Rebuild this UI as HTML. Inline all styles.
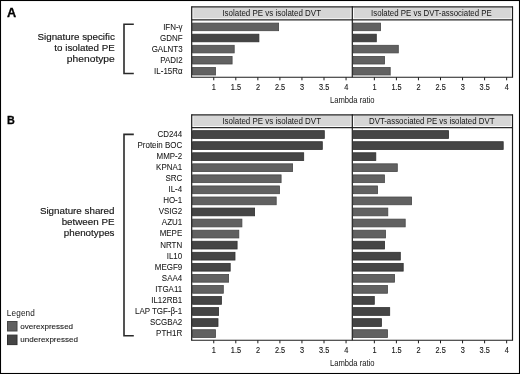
<!DOCTYPE html>
<html><head><meta charset="utf-8"><style>
html,body{margin:0;padding:0;background:#fff;overflow:hidden;}
svg{display:block;font-family:"Liberation Sans", sans-serif;filter:grayscale(1);}
</style></head><body>
<svg width="520" height="374" viewBox="0 0 520 374" fill="#151515">
<rect x="0.5" y="0.5" width="519" height="373" fill="#fff" stroke="#000" stroke-width="1.1"/>
<rect x="191.70" y="6.80" width="160.60" height="13.15" fill="#d6d6d6"/>
<rect x="192.30" y="7.60" width="1.00" height="11.75" fill="#ffffff"/>
<rect x="350.70" y="7.60" width="1.00" height="11.75" fill="#ffffff"/>
<rect x="192.30" y="18.35" width="159.40" height="1.00" fill="#ffffff"/>
<text transform="translate(271.70,15.70) scale(0.96,1)" font-size="8.3" text-anchor="middle">Isolated PE vs isolated DVT</text>
<rect x="352.30" y="6.80" width="160.20" height="13.15" fill="#d6d6d6"/>
<rect x="352.90" y="7.60" width="1.00" height="11.75" fill="#ffffff"/>
<rect x="510.90" y="7.60" width="1.00" height="11.75" fill="#ffffff"/>
<rect x="352.90" y="18.35" width="159.00" height="1.00" fill="#ffffff"/>
<text transform="translate(431.40,15.70) scale(0.95,1)" font-size="8.3" text-anchor="middle">Isolated PE vs DVT-associated PE</text>
<path d="M191.70,6.80H512.50M191.70,19.95H512.50" stroke="#2a2a2a" stroke-width="1.3" fill="none"/>
<rect x="192.60" y="23.10" width="86.00" height="7.60" fill="#616161" stroke="#474747" stroke-width="0.8"/>
<rect x="353.30" y="23.10" width="27.30" height="7.60" fill="#616161" stroke="#474747" stroke-width="0.8"/>
<rect x="192.60" y="34.20" width="66.30" height="7.60" fill="#454545" stroke="#303030" stroke-width="0.8"/>
<rect x="353.30" y="34.20" width="23.00" height="7.60" fill="#454545" stroke="#303030" stroke-width="0.8"/>
<rect x="192.60" y="45.30" width="41.60" height="7.60" fill="#616161" stroke="#474747" stroke-width="0.8"/>
<rect x="353.30" y="45.30" width="45.00" height="7.60" fill="#616161" stroke="#474747" stroke-width="0.8"/>
<rect x="192.60" y="56.40" width="39.50" height="7.60" fill="#616161" stroke="#474747" stroke-width="0.8"/>
<rect x="353.30" y="56.40" width="31.30" height="7.60" fill="#616161" stroke="#474747" stroke-width="0.8"/>
<rect x="192.60" y="67.50" width="22.90" height="7.60" fill="#616161" stroke="#474747" stroke-width="0.8"/>
<rect x="353.30" y="67.50" width="36.90" height="7.60" fill="#616161" stroke="#474747" stroke-width="0.8"/>
<path d="M191.70,6.20V77.30M352.30,6.20V77.30M512.50,6.20V77.30" stroke="#1c1c1c" stroke-width="1.2" fill="none"/>
<path d="M191.10,77.30H513.10" stroke="#1c1c1c" stroke-width="1.1" fill="none"/>
<text transform="translate(213.90,90.25) scale(0.9,1)" font-size="8.2" stroke="#151515" stroke-width="0.12" text-anchor="middle">1</text>
<text transform="translate(235.95,90.25) scale(0.9,1)" font-size="8.2" stroke="#151515" stroke-width="0.12" text-anchor="middle">1.5</text>
<text transform="translate(258.00,90.25) scale(0.9,1)" font-size="8.2" stroke="#151515" stroke-width="0.12" text-anchor="middle">2</text>
<text transform="translate(280.05,90.25) scale(0.9,1)" font-size="8.2" stroke="#151515" stroke-width="0.12" text-anchor="middle">2.5</text>
<text transform="translate(302.10,90.25) scale(0.9,1)" font-size="8.2" stroke="#151515" stroke-width="0.12" text-anchor="middle">3</text>
<text transform="translate(324.15,90.25) scale(0.9,1)" font-size="8.2" stroke="#151515" stroke-width="0.12" text-anchor="middle">3.5</text>
<text transform="translate(346.20,90.25) scale(0.9,1)" font-size="8.2" stroke="#151515" stroke-width="0.12" text-anchor="middle">4</text>
<text transform="translate(374.50,90.25) scale(0.9,1)" font-size="8.2" stroke="#151515" stroke-width="0.12" text-anchor="middle">1</text>
<text transform="translate(396.55,90.25) scale(0.9,1)" font-size="8.2" stroke="#151515" stroke-width="0.12" text-anchor="middle">1.5</text>
<text transform="translate(418.60,90.25) scale(0.9,1)" font-size="8.2" stroke="#151515" stroke-width="0.12" text-anchor="middle">2</text>
<text transform="translate(440.65,90.25) scale(0.9,1)" font-size="8.2" stroke="#151515" stroke-width="0.12" text-anchor="middle">2.5</text>
<text transform="translate(462.70,90.25) scale(0.9,1)" font-size="8.2" stroke="#151515" stroke-width="0.12" text-anchor="middle">3</text>
<text transform="translate(484.75,90.25) scale(0.9,1)" font-size="8.2" stroke="#151515" stroke-width="0.12" text-anchor="middle">3.5</text>
<text transform="translate(506.80,90.25) scale(0.9,1)" font-size="8.2" stroke="#151515" stroke-width="0.12" text-anchor="middle">4</text>
<path d="M213.75,77.30v3M235.80,77.30v3M257.85,77.30v3M279.90,77.30v3M301.95,77.30v3M324.00,77.30v3M346.05,77.30v3M374.35,77.30v3M396.40,77.30v3M418.45,77.30v3M440.50,77.30v3M462.55,77.30v3M484.60,77.30v3M506.65,77.30v3" stroke="#1c1c1c" stroke-width="1" fill="none"/>
<text transform="translate(352.30,103.30) scale(0.87,1)" font-size="8.8" text-anchor="middle">Lambda ratio</text>
<rect x="191.70" y="114.80" width="160.60" height="12.90" fill="#d6d6d6"/>
<rect x="192.30" y="115.60" width="1.00" height="11.50" fill="#ffffff"/>
<rect x="350.70" y="115.60" width="1.00" height="11.50" fill="#ffffff"/>
<rect x="192.30" y="126.10" width="159.40" height="1.00" fill="#ffffff"/>
<text transform="translate(271.70,123.70) scale(0.96,1)" font-size="8.3" text-anchor="middle">Isolated PE vs isolated DVT</text>
<rect x="352.30" y="114.80" width="160.20" height="12.90" fill="#d6d6d6"/>
<rect x="352.90" y="115.60" width="1.00" height="11.50" fill="#ffffff"/>
<rect x="510.90" y="115.60" width="1.00" height="11.50" fill="#ffffff"/>
<rect x="352.90" y="126.10" width="159.00" height="1.00" fill="#ffffff"/>
<text transform="translate(431.70,123.70) scale(0.95,1)" font-size="8.3" text-anchor="middle">DVT-associated PE vs isolated DVT</text>
<path d="M191.70,114.80H512.50M191.70,127.70H512.50" stroke="#2a2a2a" stroke-width="1.3" fill="none"/>
<rect x="192.60" y="130.65" width="131.70" height="7.75" fill="#454545" stroke="#303030" stroke-width="0.8"/>
<rect x="353.30" y="130.65" width="95.30" height="7.75" fill="#454545" stroke="#303030" stroke-width="0.8"/>
<rect x="192.60" y="141.71" width="129.70" height="7.75" fill="#454545" stroke="#303030" stroke-width="0.8"/>
<rect x="353.30" y="141.71" width="149.90" height="7.75" fill="#454545" stroke="#303030" stroke-width="0.8"/>
<rect x="192.60" y="152.77" width="111.10" height="7.75" fill="#454545" stroke="#303030" stroke-width="0.8"/>
<rect x="353.30" y="152.77" width="22.50" height="7.75" fill="#454545" stroke="#303030" stroke-width="0.8"/>
<rect x="192.60" y="163.83" width="100.00" height="7.75" fill="#616161" stroke="#474747" stroke-width="0.8"/>
<rect x="353.30" y="163.83" width="44.00" height="7.75" fill="#616161" stroke="#474747" stroke-width="0.8"/>
<rect x="192.60" y="174.89" width="88.50" height="7.75" fill="#616161" stroke="#474747" stroke-width="0.8"/>
<rect x="353.30" y="174.89" width="31.10" height="7.75" fill="#616161" stroke="#474747" stroke-width="0.8"/>
<rect x="192.60" y="185.95" width="86.90" height="7.75" fill="#616161" stroke="#474747" stroke-width="0.8"/>
<rect x="353.30" y="185.95" width="24.30" height="7.75" fill="#616161" stroke="#474747" stroke-width="0.8"/>
<rect x="192.60" y="197.01" width="83.60" height="7.75" fill="#616161" stroke="#474747" stroke-width="0.8"/>
<rect x="353.30" y="197.01" width="58.30" height="7.75" fill="#616161" stroke="#474747" stroke-width="0.8"/>
<rect x="192.60" y="208.07" width="62.00" height="7.75" fill="#454545" stroke="#303030" stroke-width="0.8"/>
<rect x="353.30" y="208.07" width="34.50" height="7.75" fill="#616161" stroke="#474747" stroke-width="0.8"/>
<rect x="192.60" y="219.13" width="49.30" height="7.75" fill="#616161" stroke="#474747" stroke-width="0.8"/>
<rect x="353.30" y="219.13" width="51.90" height="7.75" fill="#616161" stroke="#474747" stroke-width="0.8"/>
<rect x="192.60" y="230.19" width="46.20" height="7.75" fill="#616161" stroke="#474747" stroke-width="0.8"/>
<rect x="353.30" y="230.19" width="32.20" height="7.75" fill="#616161" stroke="#474747" stroke-width="0.8"/>
<rect x="192.60" y="241.25" width="44.50" height="7.75" fill="#454545" stroke="#303030" stroke-width="0.8"/>
<rect x="353.30" y="241.25" width="31.30" height="7.75" fill="#454545" stroke="#303030" stroke-width="0.8"/>
<rect x="192.60" y="252.31" width="42.40" height="7.75" fill="#454545" stroke="#303030" stroke-width="0.8"/>
<rect x="353.30" y="252.31" width="47.00" height="7.75" fill="#454545" stroke="#303030" stroke-width="0.8"/>
<rect x="192.60" y="263.37" width="37.60" height="7.75" fill="#454545" stroke="#303030" stroke-width="0.8"/>
<rect x="353.30" y="263.37" width="49.90" height="7.75" fill="#454545" stroke="#303030" stroke-width="0.8"/>
<rect x="192.60" y="274.43" width="36.00" height="7.75" fill="#616161" stroke="#474747" stroke-width="0.8"/>
<rect x="353.30" y="274.43" width="41.30" height="7.75" fill="#616161" stroke="#474747" stroke-width="0.8"/>
<rect x="192.60" y="285.49" width="30.70" height="7.75" fill="#616161" stroke="#474747" stroke-width="0.8"/>
<rect x="353.30" y="285.49" width="34.20" height="7.75" fill="#616161" stroke="#474747" stroke-width="0.8"/>
<rect x="192.60" y="296.55" width="28.80" height="7.75" fill="#454545" stroke="#303030" stroke-width="0.8"/>
<rect x="353.30" y="296.55" width="21.00" height="7.75" fill="#454545" stroke="#303030" stroke-width="0.8"/>
<rect x="192.60" y="307.61" width="26.00" height="7.75" fill="#454545" stroke="#303030" stroke-width="0.8"/>
<rect x="353.30" y="307.61" width="36.40" height="7.75" fill="#454545" stroke="#303030" stroke-width="0.8"/>
<rect x="192.60" y="318.67" width="25.40" height="7.75" fill="#454545" stroke="#303030" stroke-width="0.8"/>
<rect x="353.30" y="318.67" width="28.10" height="7.75" fill="#454545" stroke="#303030" stroke-width="0.8"/>
<rect x="192.60" y="329.73" width="22.90" height="7.75" fill="#616161" stroke="#474747" stroke-width="0.8"/>
<rect x="353.30" y="329.73" width="34.20" height="7.75" fill="#616161" stroke="#474747" stroke-width="0.8"/>
<path d="M191.70,114.20V340.30M352.30,114.20V340.30M512.50,114.20V340.30" stroke="#1c1c1c" stroke-width="1.2" fill="none"/>
<path d="M191.10,340.30H513.10" stroke="#1c1c1c" stroke-width="1.1" fill="none"/>
<text transform="translate(213.90,353.30) scale(0.9,1)" font-size="8.2" stroke="#151515" stroke-width="0.12" text-anchor="middle">1</text>
<text transform="translate(235.95,353.30) scale(0.9,1)" font-size="8.2" stroke="#151515" stroke-width="0.12" text-anchor="middle">1.5</text>
<text transform="translate(258.00,353.30) scale(0.9,1)" font-size="8.2" stroke="#151515" stroke-width="0.12" text-anchor="middle">2</text>
<text transform="translate(280.05,353.30) scale(0.9,1)" font-size="8.2" stroke="#151515" stroke-width="0.12" text-anchor="middle">2.5</text>
<text transform="translate(302.10,353.30) scale(0.9,1)" font-size="8.2" stroke="#151515" stroke-width="0.12" text-anchor="middle">3</text>
<text transform="translate(324.15,353.30) scale(0.9,1)" font-size="8.2" stroke="#151515" stroke-width="0.12" text-anchor="middle">3.5</text>
<text transform="translate(346.20,353.30) scale(0.9,1)" font-size="8.2" stroke="#151515" stroke-width="0.12" text-anchor="middle">4</text>
<text transform="translate(374.50,353.30) scale(0.9,1)" font-size="8.2" stroke="#151515" stroke-width="0.12" text-anchor="middle">1</text>
<text transform="translate(396.55,353.30) scale(0.9,1)" font-size="8.2" stroke="#151515" stroke-width="0.12" text-anchor="middle">1.5</text>
<text transform="translate(418.60,353.30) scale(0.9,1)" font-size="8.2" stroke="#151515" stroke-width="0.12" text-anchor="middle">2</text>
<text transform="translate(440.65,353.30) scale(0.9,1)" font-size="8.2" stroke="#151515" stroke-width="0.12" text-anchor="middle">2.5</text>
<text transform="translate(462.70,353.30) scale(0.9,1)" font-size="8.2" stroke="#151515" stroke-width="0.12" text-anchor="middle">3</text>
<text transform="translate(484.75,353.30) scale(0.9,1)" font-size="8.2" stroke="#151515" stroke-width="0.12" text-anchor="middle">3.5</text>
<text transform="translate(506.80,353.30) scale(0.9,1)" font-size="8.2" stroke="#151515" stroke-width="0.12" text-anchor="middle">4</text>
<path d="M213.75,340.30v3M235.80,340.30v3M257.85,340.30v3M279.90,340.30v3M301.95,340.30v3M324.00,340.30v3M346.05,340.30v3M374.35,340.30v3M396.40,340.30v3M418.45,340.30v3M440.50,340.30v3M462.55,340.30v3M484.60,340.30v3M506.65,340.30v3" stroke="#1c1c1c" stroke-width="1" fill="none"/>
<text transform="translate(352.30,365.90) scale(0.87,1)" font-size="8.8" text-anchor="middle">Lambda ratio</text>
<rect x="192.20" y="75.10" width="23.70" height="1.50" fill="#bdbdbd"/>
<rect x="352.90" y="75.10" width="37.70" height="1.50" fill="#bdbdbd"/>
<text transform="translate(182.60,29.95) scale(0.96,1)" font-size="8.3" stroke="#151515" stroke-width="0.06" text-anchor="end">IFN-&#947;</text>
<text transform="translate(182.60,40.89) scale(0.96,1)" font-size="8.3" stroke="#151515" stroke-width="0.06" text-anchor="end">GDNF</text>
<text transform="translate(182.60,51.83) scale(0.96,1)" font-size="8.3" stroke="#151515" stroke-width="0.06" text-anchor="end">GALNT3</text>
<text transform="translate(182.60,62.77) scale(0.96,1)" font-size="8.3" stroke="#151515" stroke-width="0.06" text-anchor="end">PADI2</text>
<text transform="translate(182.60,73.71) scale(0.96,1)" font-size="8.3" stroke="#151515" stroke-width="0.06" text-anchor="end">IL-15R&#945;</text>
<text transform="translate(182.20,137.20) scale(0.96,1)" font-size="8.3" stroke="#151515" stroke-width="0.06" text-anchor="end">CD244</text>
<text transform="translate(182.20,148.23) scale(0.96,1)" font-size="8.3" stroke="#151515" stroke-width="0.06" text-anchor="end">Protein BOC</text>
<text transform="translate(182.20,159.26) scale(0.96,1)" font-size="8.3" stroke="#151515" stroke-width="0.06" text-anchor="end">MMP-2</text>
<text transform="translate(182.20,170.29) scale(0.96,1)" font-size="8.3" stroke="#151515" stroke-width="0.06" text-anchor="end">KPNA1</text>
<text transform="translate(182.20,181.32) scale(0.96,1)" font-size="8.3" stroke="#151515" stroke-width="0.06" text-anchor="end">SRC</text>
<text transform="translate(182.20,192.35) scale(0.96,1)" font-size="8.3" stroke="#151515" stroke-width="0.06" text-anchor="end">IL-4</text>
<text transform="translate(182.20,203.38) scale(0.96,1)" font-size="8.3" stroke="#151515" stroke-width="0.06" text-anchor="end">HO-1</text>
<text transform="translate(182.20,214.41) scale(0.96,1)" font-size="8.3" stroke="#151515" stroke-width="0.06" text-anchor="end">VSIG2</text>
<text transform="translate(182.20,225.44) scale(0.96,1)" font-size="8.3" stroke="#151515" stroke-width="0.06" text-anchor="end">AZU1</text>
<text transform="translate(182.20,236.47) scale(0.96,1)" font-size="8.3" stroke="#151515" stroke-width="0.06" text-anchor="end">MEPE</text>
<text transform="translate(182.20,247.50) scale(0.96,1)" font-size="8.3" stroke="#151515" stroke-width="0.06" text-anchor="end">NRTN</text>
<text transform="translate(182.20,258.53) scale(0.96,1)" font-size="8.3" stroke="#151515" stroke-width="0.06" text-anchor="end">IL10</text>
<text transform="translate(182.20,269.56) scale(0.96,1)" font-size="8.3" stroke="#151515" stroke-width="0.06" text-anchor="end">MEGF9</text>
<text transform="translate(182.20,280.59) scale(0.96,1)" font-size="8.3" stroke="#151515" stroke-width="0.06" text-anchor="end">SAA4</text>
<text transform="translate(182.20,291.62) scale(0.96,1)" font-size="8.3" stroke="#151515" stroke-width="0.06" text-anchor="end">ITGA11</text>
<text transform="translate(182.20,302.65) scale(0.96,1)" font-size="8.3" stroke="#151515" stroke-width="0.06" text-anchor="end">IL12RB1</text>
<text transform="translate(182.20,313.68) scale(0.96,1)" font-size="8.3" stroke="#151515" stroke-width="0.06" text-anchor="end">LAP TGF-&#946;-1</text>
<text transform="translate(182.20,324.71) scale(0.96,1)" font-size="8.3" stroke="#151515" stroke-width="0.06" text-anchor="end">SCGBA2</text>
<text transform="translate(182.20,335.74) scale(0.96,1)" font-size="8.3" stroke="#151515" stroke-width="0.06" text-anchor="end">PTH1R</text>
<path d="M133.8,24.2H124V73.5H133.8" stroke="#2a2a2a" stroke-width="1.6" fill="none"/>
<path d="M133.8,134.4H124V335.7H133.8" stroke="#2a2a2a" stroke-width="1.6" fill="none"/>
<text transform="translate(6.90,16.80) scale(1.04,1)" font-size="12.2" font-weight="bold" fill="#000" stroke="#000" stroke-width="0.3">A</text>
<text transform="translate(7.00,124.00) scale(0.92,1)" font-size="11.8" font-weight="bold" fill="#000" stroke="#000" stroke-width="0.3">B</text>
<text transform="translate(114.80,40.30) scale(1.0,1)" font-size="9.8" stroke="#151515" stroke-width="0.15" text-anchor="end">Signature specific</text>
<text transform="translate(114.80,51.20) scale(1.0,1)" font-size="9.8" stroke="#151515" stroke-width="0.15" text-anchor="end">to isolated PE</text>
<text transform="translate(114.80,62.10) scale(1.05,1)" font-size="9.8" stroke="#151515" stroke-width="0.15" text-anchor="end">phenotype</text>
<text x="114.50" y="213.80" font-size="9.8" stroke="#151515" stroke-width="0.15" text-anchor="end">Signature shared</text>
<text x="114.50" y="224.70" font-size="9.8" stroke="#151515" stroke-width="0.15" text-anchor="end">between PE</text>
<text x="114.50" y="235.50" font-size="9.8" stroke="#151515" stroke-width="0.15" text-anchor="end">phenotypes</text>
<text x="6.80" y="315.60" font-size="8.2" letter-spacing="0.15">Legend</text>
<text x="20.30" y="329.10" font-size="8.05" stroke="#151515" stroke-width="0.08">overexpressed</text>
<text x="20.30" y="341.75" font-size="8.05" stroke="#151515" stroke-width="0.08">underexpressed</text>
<rect x="7.5" y="321.5" width="9.5" height="9.5" fill="#616161" stroke="#474747" stroke-width="1"/>
<rect x="7.5" y="335.1" width="9.5" height="9.5" fill="#454545" stroke="#303030" stroke-width="1"/>
</svg>
</body></html>
